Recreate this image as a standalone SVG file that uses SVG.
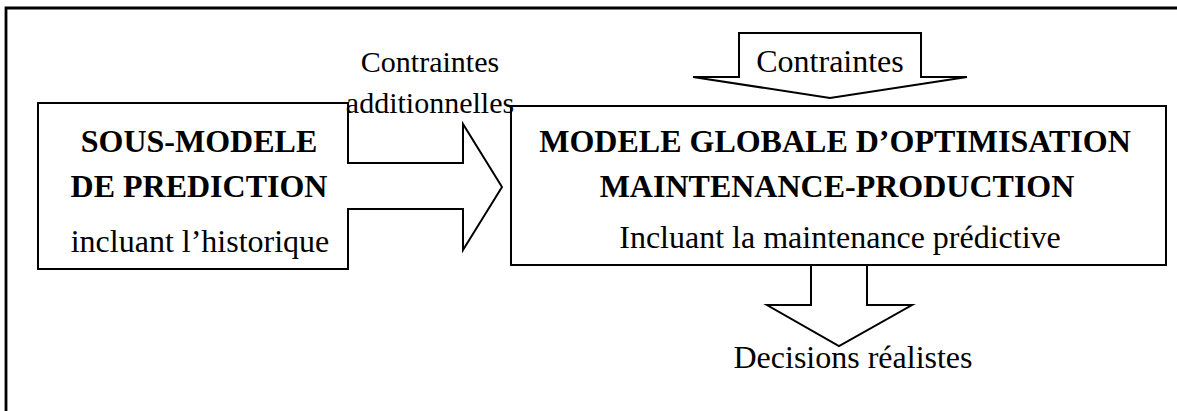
<svg xmlns="http://www.w3.org/2000/svg" width="1177" height="411" viewBox="0 0 1177 411">
<style>
.shape{fill:#fff;stroke:#000;stroke-width:2;stroke-linejoin:miter}
.frame{fill:none;stroke:#000;stroke-width:2.8}
.t{font-family:"Liberation Serif","Times New Roman",serif;font-size:32px;fill:#000;text-anchor:middle}
.s{font-size:30px}
.b{font-weight:bold}
</style>
<rect width="1177" height="411" fill="#fff"/>
<path class="frame" d="M6,411 V8 H1177"/>
<g id="connectors">
  <polygon class="shape" points="348,163 463,163 463,124 502,187 463,250 463,209 348,209"/>
  <polygon class="shape" points="739,33 921,33 921,77 967,77 830,98 693,77 739,77"/>
  <polygon class="shape" points="811,265 867,265 867,305 912,305 839,346 767,305 811,305"/>
</g>
<g id="sous-modele">
  <rect class="shape" x="38" y="103" width="310" height="166"/>
  <line x1="348" y1="164" x2="348" y2="208" stroke="#fff" stroke-width="2.2"/>
  <text class="t b" x="199" y="152">SOUS-MODELE</text>
  <text class="t b" x="199" y="197">DE PREDICTION</text>
  <text class="t" x="200" y="252">incluant l’historique</text>
</g>
<g id="modele-global">
  <rect class="shape" x="511" y="106" width="655" height="159"/>
  <text class="t b" x="835" y="152">MODELE GLOBALE D’OPTIMISATION</text>
  <text class="t b" x="837" y="197">MAINTENANCE-PRODUCTION</text>
  <text class="t" x="840" y="248">Incluant la maintenance prédictive</text>
</g>
<g id="labels">
  <text class="t s" x="430" y="72">Contraintes</text>
  <text class="t s" x="430" y="113">additionnelles</text>
  <text class="t" x="830" y="72">Contraintes</text>
  <text class="t" x="853" y="368">Decisions réalistes</text>
</g>
</svg>
